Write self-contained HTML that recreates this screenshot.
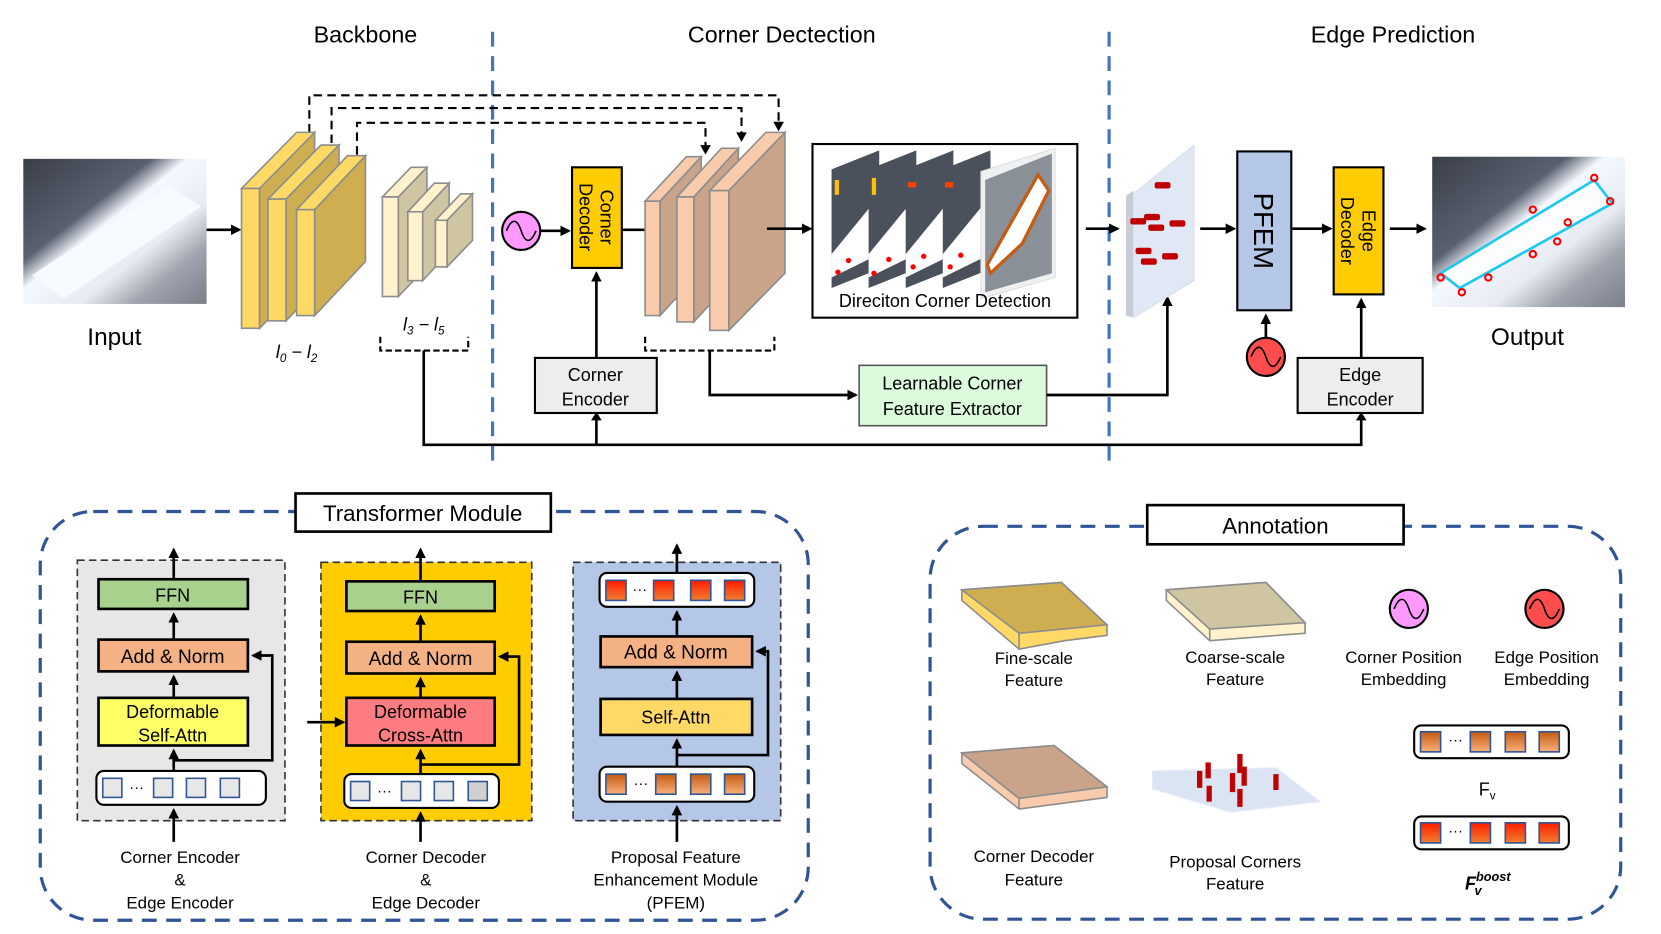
<!DOCTYPE html>
<html><head><meta charset="utf-8"><style>
html,body{margin:0;padding:0;background:#fff;}
svg{display:block;}
text{font-family:"Liberation Sans",sans-serif;fill:#000;}
</style></head><body>
<svg width="1661" height="934" viewBox="0 0 1568 882" preserveAspectRatio="none" xmlns="http://www.w3.org/2000/svg">
<defs>
<marker id="ar" markerWidth="10" markerHeight="10" refX="8" refY="5" orient="auto" markerUnits="userSpaceOnUse"><path d="M0,0 L10,5 L0,10 z" fill="#000"/></marker>
<linearGradient id="tokO" x1="0" y1="0" x2="0" y2="1"><stop offset="0" stop-color="#c55a11"/><stop offset="1" stop-color="#f8b07a"/></linearGradient>
<linearGradient id="tokR" x1="0" y1="0" x2="0" y2="1"><stop offset="0" stop-color="#ff1a00"/><stop offset="1" stop-color="#f08030"/></linearGradient>
<linearGradient id="sat" x1="0" y1="0" x2="1" y2="1"><stop offset="0" stop-color="#3a3e48"/><stop offset="0.35" stop-color="#5a6070"/><stop offset="0.45" stop-color="#f4f8ff"/><stop offset="0.65" stop-color="#e8ecf2"/><stop offset="0.8" stop-color="#a0a4ae"/><stop offset="1" stop-color="#7a7e88"/></linearGradient>
</defs>

<text x="345" y="40" font-size="22" text-anchor="middle">Backbone</text>
<text x="738" y="40" font-size="22" text-anchor="middle">Corner Dectection</text>
<text x="1315" y="40" font-size="22" text-anchor="middle">Edge Prediction</text>

<line x1="465" y1="30" x2="465" y2="435" stroke="#4472c4" stroke-width="3" stroke-dasharray="14,9"/>
<line x1="1047" y1="30" x2="1047" y2="435" stroke="#4472c4" stroke-width="3" stroke-dasharray="14,9"/>

<rect x="22" y="150" width="173" height="137" fill="url(#sat)"/>
<polygon points="30,260 160,175 190,195 60,282" fill="#f7faff"/>
<text x="108" y="326" font-size="23" text-anchor="middle">Input</text>
<line x1="195" y1="217" x2="226" y2="217" stroke="#000" stroke-width="2.5" marker-end="url(#ar)"/>

<g fill="none" stroke="#000" stroke-width="2" stroke-dasharray="8,5">
<polyline points="292,125 292,90 735,90 735,118"/>
<polyline points="313,135 313,102 700,102 700,128"/>
<polyline points="337,146 337,116 666,116 666,140"/>
</g>
<polygon points="730,115 740,115 735,124" fill="#000"/>
<polygon points="695,125 705,125 700,134" fill="#000"/>
<polygon points="661,137 671,137 666,146" fill="#000"/>

<g stroke="#8c8c8c" stroke-width="1.5">
<polygon points="245,178 297,125 297,257 245,310" fill="#cfae52"/>
<polygon points="228,178 280,125 297,125 245,178" fill="#ffd966"/>
<rect x="228" y="178" width="17" height="132" fill="#ffd966"/>
<polygon points="270,188 320,137 320,251 270,303" fill="#cfae52"/>
<polygon points="253,188 303,137 320,137 270,188" fill="#ffd966"/>
<rect x="253" y="188" width="17" height="115" fill="#ffd966"/>
<polygon points="297,198 345,147 345,247 297,298" fill="#cfae52"/>
<polygon points="280,198 328,147 345,147 297,198" fill="#ffd966"/>
<rect x="280" y="198" width="17" height="100" fill="#ffd966"/>
<polygon points="376,186 403,158 403,252 376,280" fill="#d0c5a3"/>
<polygon points="361,186 388,158 403,158 376,186" fill="#fff2cc"/>
<rect x="361" y="186" width="15" height="94" fill="#fff2cc"/>
<polygon points="399,200 424,173 424,238 399,265" fill="#d0c5a3"/>
<polygon points="385,200 410,173 424,173 399,200" fill="#fff2cc"/>
<rect x="385" y="200" width="14" height="65" fill="#fff2cc"/>
<polygon points="422,208 446,183 446,227 422,252" fill="#d0c5a3"/>
<polygon points="411,208 435,183 446,183 422,208" fill="#fff2cc"/>
<rect x="411" y="208" width="11" height="44" fill="#fff2cc"/>
</g>
<text x="280" y="338" font-size="17" font-style="italic" font-family="Liberation Serif" text-anchor="middle">l<tspan font-size="11" dy="4">0</tspan><tspan dy="-4"> − l</tspan><tspan font-size="11" dy="4">2</tspan></text>
<text x="400" y="312" font-size="17" font-style="italic" font-family="Liberation Serif" text-anchor="middle">l<tspan font-size="11" dy="4">3</tspan><tspan dy="-4"> − l</tspan><tspan font-size="11" dy="4">5</tspan></text>
<polyline points="359,318 359,331 442,331 442,318" fill="none" stroke="#000" stroke-width="2" stroke-dasharray="6,3"/>

<polyline points="400,331 400,420 1285,420 1285,395" fill="none" stroke="#000" stroke-width="2.5"/>
<polygon points="1280,397 1290,397 1285,389" fill="#000"/>
<line x1="563" y1="420" x2="563" y2="395" stroke="#000" stroke-width="2.5"/>
<polygon points="558,397 568,397 563,389" fill="#000"/>

<circle cx="492" cy="218" r="18" fill="#ff99ff" stroke="#000" stroke-width="2"/>
<path d="M478,218 C483,206 488,206 492,218 C496,230 501,230 506,218" fill="none" stroke="#000" stroke-width="1.5"/>
<line x1="510" y1="218" x2="537" y2="218" stroke="#000" stroke-width="2.5" marker-end="url(#ar)"/>

<rect x="540" y="158" width="47" height="95" fill="#ffcc00" stroke="#000" stroke-width="2"/>
<text transform="translate(563,205) rotate(90)" font-size="17" text-anchor="middle"><tspan x="0" y="-4">Corner</tspan><tspan x="0" y="16">Decoder</tspan></text>
<line x1="587" y1="217" x2="609" y2="217" stroke="#000" stroke-width="2.5"/>

<g stroke="#8c8c8c" stroke-width="1.5">
<polygon points="623,190 662,148 662,256 623,298" fill="#c9a48b"/>
<polygon points="609,190 648,148 662,148 623,190" fill="#f8cbad"/>
<rect x="609" y="190" width="14" height="108" fill="#f8cbad"/>
<polygon points="655,186 697,140 697,258 655,304" fill="#c9a48b"/>
<polygon points="639,186 681,140 697,140 655,186" fill="#f8cbad"/>
<rect x="639" y="186" width="16" height="118" fill="#f8cbad"/>
<polygon points="688,180 741,125 741,258 688,312" fill="#c9a48b"/>
<polygon points="670,180 723,125 741,125 688,180" fill="#f8cbad"/>
<rect x="670" y="180" width="18" height="132" fill="#f8cbad"/>
</g>
<polyline points="609,318 609,331 731,331 731,318" fill="none" stroke="#000" stroke-width="2" stroke-dasharray="6,3"/>
<polyline points="670,331 670,373 808,373" fill="none" stroke="#000" stroke-width="2.5" marker-end="url(#ar)"/>
<line x1="724" y1="216" x2="765" y2="216" stroke="#000" stroke-width="2.5" marker-end="url(#ar)"/>

<rect x="767" y="136" width="250" height="164" fill="#fff" stroke="#000" stroke-width="2"/>
<g>
<polygon points="785,160 830,142 830,254 785,272" fill="#4a505c"/>
<polygon points="785,240 830,185 830,240 785,262" fill="#fff"/>
<polygon points="820,160 865,142 865,254 820,272" fill="#4a505c"/>
<polygon points="820,240 865,185 865,240 820,262" fill="#fff"/>
<polygon points="855,160 900,142 900,254 855,272" fill="#4a505c"/>
<polygon points="855,240 900,185 900,240 855,262" fill="#fff"/>
<polygon points="890,160 935,142 935,254 890,272" fill="#4a505c"/>
<polygon points="890,240 935,185 935,240 890,262" fill="#fff"/>
<polygon points="926,162 996,140 996,262 926,282" fill="#eef0f2" stroke="#ddd"/>
<polygon points="930,170 993,145 993,258 930,276" fill="#8a9098"/>
<polygon points="932,250 980,165 990,180 965,230 935,258" fill="#fff" stroke="#c55a11" stroke-width="3"/>
<rect x="788" y="170" width="4" height="14" fill="#ffc000"/><rect x="823" y="168" width="4" height="16" fill="#ffc000"/>
<rect x="857" y="172" width="8" height="5" fill="#ff4000"/><rect x="892" y="172" width="8" height="5" fill="#ff4000"/>
<g fill="#ff0000"><circle cx="791" cy="257" r="2.5"/><circle cx="801" cy="246" r="2.5"/><circle cx="825" cy="258" r="2.5"/><circle cx="839" cy="245" r="2.5"/><circle cx="862" cy="252" r="2.5"/><circle cx="872" cy="242" r="2.5"/><circle cx="897" cy="252" r="2.5"/><circle cx="907" cy="241" r="2.5"/></g>
</g>
<text x="892" y="290" font-size="17" text-anchor="middle">Direciton Corner Detection</text>

<rect x="505" y="338" width="115" height="52" fill="#ededed" stroke="#000" stroke-width="2"/>
<text x="562" y="360" font-size="17" text-anchor="middle">Corner</text>
<text x="562" y="383" font-size="17" text-anchor="middle">Encoder</text>
<line x1="563" y1="338" x2="563" y2="258" stroke="#000" stroke-width="2.5" marker-end="url(#ar)"/>

<rect x="811" y="345" width="177" height="57" fill="#dcfadc" stroke="#555" stroke-width="1.5"/>
<text x="899" y="368" font-size="17" text-anchor="middle">Learnable Corner</text>
<text x="899" y="392" font-size="17" text-anchor="middle">Feature Extractor</text>
<polyline points="988,373 1102,373 1102,281" fill="none" stroke="#000" stroke-width="2.5" marker-end="url(#ar)"/>

<polygon points="1063,185 1070,180 1070,300 1063,298" fill="#c8ccd6"/>
<polygon points="1070,183 1127,137 1127,265 1070,300" fill="#e0e8f6" stroke="#d8deea"/>
<g fill="#c00000">
<rect x="1090" y="172" width="15" height="6" rx="2"/>
<rect x="1067" y="206" width="15" height="6" rx="2"/><rect x="1080" y="202" width="15" height="6" rx="2"/><rect x="1104" y="208" width="15" height="6" rx="2"/><rect x="1084" y="212" width="15" height="6" rx="2"/>
<rect x="1072" y="234" width="15" height="6" rx="2"/><rect x="1097" y="239" width="15" height="6" rx="2"/><rect x="1077" y="244" width="15" height="6" rx="2"/>
</g>
<line x1="1025" y1="216" x2="1055" y2="216" stroke="#000" stroke-width="2.5" marker-end="url(#ar)"/>
<line x1="1133" y1="216" x2="1165" y2="216" stroke="#000" stroke-width="2.5" marker-end="url(#ar)"/>

<rect x="1168" y="143" width="51" height="150" fill="#b4c7e7" stroke="#000" stroke-width="2"/>
<text transform="translate(1193,218) rotate(90)" font-size="26" text-anchor="middle" y="9">PFEM</text>
<circle cx="1195" cy="337" r="18" fill="#ff4d4d" stroke="#000" stroke-width="2"/>
<path d="M1181,337 C1186,325 1191,325 1195,337 C1199,349 1204,349 1209,337" fill="none" stroke="#000" stroke-width="1.5"/>
<line x1="1195" y1="319" x2="1195" y2="298" stroke="#000" stroke-width="2.5" marker-end="url(#ar)"/>
<line x1="1220" y1="216" x2="1256" y2="216" stroke="#000" stroke-width="2.5" marker-end="url(#ar)"/>

<rect x="1259" y="158" width="47" height="120" fill="#ffcc00" stroke="#000" stroke-width="2"/>
<text transform="translate(1282,218) rotate(90)" font-size="17" text-anchor="middle"><tspan x="0" y="-4">Edge</tspan><tspan x="0" y="16">Decoder</tspan></text>
<line x1="1312" y1="216" x2="1345" y2="216" stroke="#000" stroke-width="2.5" marker-end="url(#ar)"/>
<rect x="1225" y="338" width="118" height="52" fill="#ededed" stroke="#000" stroke-width="2"/>
<text x="1284" y="360" font-size="17" text-anchor="middle">Edge</text>
<text x="1284" y="383" font-size="17" text-anchor="middle">Encoder</text>
<line x1="1285" y1="338" x2="1285" y2="283" stroke="#000" stroke-width="2.5" marker-end="url(#ar)"/>

<rect x="1352" y="148" width="182" height="142" fill="url(#sat)"/>
<polygon points="1360,258 1505,170 1522,192 1378,272" fill="#fbfdff" stroke="#1ec8ee" stroke-width="2.5"/>
<g fill="none" stroke="#ff0000" stroke-width="2"><circle cx="1505" cy="168" r="3"/><circle cx="1520" cy="190" r="3"/><circle cx="1447" cy="198" r="3"/><circle cx="1480" cy="210" r="3"/><circle cx="1470" cy="228" r="3"/><circle cx="1447" cy="240" r="3"/><circle cx="1360" cy="262" r="3"/><circle cx="1405" cy="262" r="3"/><circle cx="1380" cy="276" r="3"/></g>
<text x="1442" y="326" font-size="23" text-anchor="middle">Output</text>

<rect x="38" y="483" width="725" height="386" rx="50" fill="none" stroke="#2f5597" stroke-width="3" stroke-dasharray="14,9"/>
<rect x="279" y="466" width="241" height="36" fill="#fff" stroke="#000" stroke-width="2.5"/>
<text x="399" y="492" font-size="21" text-anchor="middle">Transformer Module</text>

<rect x="73" y="529" width="196" height="246" fill="#e7e7e7" stroke="#333" stroke-width="1.5" stroke-dasharray="7,4"/>
<rect x="93" y="547" width="141" height="28" fill="#a9d18e" stroke="#000" stroke-width="2.5"/>
<text x="163" y="568" font-size="17" text-anchor="middle">FFN</text>
<rect x="93" y="604" width="141" height="30" fill="#f4b183" stroke="#000" stroke-width="2.5"/>
<text x="163" y="626" font-size="18" text-anchor="middle">Add &amp; Norm</text>
<rect x="93" y="659" width="141" height="45" fill="#ffff66" stroke="#000" stroke-width="2.5"/>
<text x="163" y="678" font-size="17" text-anchor="middle">Deformable</text>
<text x="163" y="700" font-size="17" text-anchor="middle">Self-Attn</text>
<rect x="91" y="728" width="160" height="32" rx="7" fill="#fff" stroke="#000" stroke-width="2"/>
<g fill="#e7e7e7" stroke="#2f5597" stroke-width="1.5"><rect x="97" y="735" width="18" height="18"/><rect x="145" y="735" width="18" height="18"/><rect x="176" y="735" width="18" height="18"/><rect x="208" y="735" width="18" height="18"/></g>
<text x="129" y="748" font-size="14" text-anchor="middle">···</text>
<g stroke="#000" stroke-width="2.5" fill="none">
<line x1="164" y1="795" x2="164" y2="765" marker-end="url(#ar)"/>
<line x1="164" y1="728" x2="164" y2="709" marker-end="url(#ar)"/>
<line x1="164" y1="659" x2="164" y2="639" marker-end="url(#ar)"/>
<line x1="164" y1="604" x2="164" y2="580" marker-end="url(#ar)"/>
<line x1="164" y1="547" x2="164" y2="519" marker-end="url(#ar)"/>
<polyline points="164,718 257,718 257,619 239,619" marker-end="url(#ar)"/>
</g>
<text x="170" y="815" font-size="16" text-anchor="middle">Corner Encoder</text>
<text x="170" y="836" font-size="16" text-anchor="middle">&amp;</text>
<text x="170" y="858" font-size="16" text-anchor="middle">Edge Encoder</text>

<rect x="303" y="531" width="199" height="244" fill="#ffcc00" stroke="#333" stroke-width="1.5" stroke-dasharray="7,4"/>
<rect x="327" y="549" width="140" height="28" fill="#a9d18e" stroke="#000" stroke-width="2.5"/>
<text x="397" y="570" font-size="17" text-anchor="middle">FFN</text>
<rect x="327" y="606" width="140" height="30" fill="#f4b183" stroke="#000" stroke-width="2.5"/>
<text x="397" y="628" font-size="18" text-anchor="middle">Add &amp; Norm</text>
<rect x="327" y="659" width="140" height="45" fill="#ff7c80" stroke="#000" stroke-width="2.5"/>
<text x="397" y="678" font-size="17" text-anchor="middle">Deformable</text>
<text x="397" y="700" font-size="17" text-anchor="middle">Cross-Attn</text>
<rect x="325" y="731" width="146" height="32" rx="7" fill="#fff" stroke="#000" stroke-width="2"/>
<g fill="#e7e7e7" stroke="#2f5597" stroke-width="1.5"><rect x="331" y="738" width="18" height="18"/><rect x="379" y="738" width="18" height="18"/><rect x="410" y="738" width="18" height="18"/><rect x="442" y="738" width="18" height="18" fill="#d0d0d0"/></g>
<text x="363" y="751" font-size="14" text-anchor="middle">···</text>
<g stroke="#000" stroke-width="2.5" fill="none">
<line x1="397" y1="795" x2="397" y2="768" marker-end="url(#ar)"/>
<line x1="397" y1="731" x2="397" y2="709" marker-end="url(#ar)"/>
<line x1="397" y1="659" x2="397" y2="641" marker-end="url(#ar)"/>
<line x1="397" y1="606" x2="397" y2="582" marker-end="url(#ar)"/>
<line x1="397" y1="549" x2="397" y2="519" marker-end="url(#ar)"/>
<polyline points="397,722 490,722 490,620 472,620" marker-end="url(#ar)"/>
<line x1="290" y1="682" x2="324" y2="682" marker-end="url(#ar)"/>
</g>
<text x="402" y="815" font-size="16" text-anchor="middle">Corner Decoder</text>
<text x="402" y="836" font-size="16" text-anchor="middle">&amp;</text>
<text x="402" y="858" font-size="16" text-anchor="middle">Edge Decoder</text>

<rect x="541" y="531" width="196" height="244" fill="#b4c7e7" stroke="#333" stroke-width="1.5" stroke-dasharray="7,4"/>
<rect x="566" y="541" width="146" height="32" rx="7" fill="#fff" stroke="#000" stroke-width="2"/>
<g fill="url(#tokR)" stroke="#2f5597" stroke-width="1.5"><rect x="572" y="548" width="19" height="19"/><rect x="617" y="548" width="19" height="19"/><rect x="652" y="548" width="19" height="19"/><rect x="684" y="548" width="19" height="19"/></g>
<text x="604" y="561" font-size="14" text-anchor="middle">···</text>
<rect x="567" y="601" width="143" height="29" fill="#f4b183" stroke="#000" stroke-width="2.5"/>
<text x="638" y="622" font-size="18" text-anchor="middle">Add &amp; Norm</text>
<rect x="567" y="660" width="143" height="34" fill="#ffd966" stroke="#000" stroke-width="2.5"/>
<text x="638" y="683" font-size="17" text-anchor="middle">Self-Attn</text>
<rect x="566" y="724" width="146" height="33" rx="7" fill="#fff" stroke="#000" stroke-width="2"/>
<g fill="url(#tokO)" stroke="#2f5597" stroke-width="1.5"><rect x="572" y="731" width="19" height="19"/><rect x="619" y="731" width="19" height="19"/><rect x="652" y="731" width="19" height="19"/><rect x="684" y="731" width="19" height="19"/></g>
<text x="605" y="744" font-size="14" text-anchor="middle">···</text>
<g stroke="#000" stroke-width="2.5" fill="none">
<line x1="639" y1="795" x2="639" y2="762" marker-end="url(#ar)"/>
<line x1="639" y1="724" x2="639" y2="699" marker-end="url(#ar)"/>
<line x1="639" y1="660" x2="639" y2="635" marker-end="url(#ar)"/>
<line x1="639" y1="601" x2="639" y2="578" marker-end="url(#ar)"/>
<line x1="639" y1="541" x2="639" y2="515" marker-end="url(#ar)"/>
<polyline points="639,713 725,713 725,615 715,615" marker-end="url(#ar)"/>
</g>
<text x="638" y="815" font-size="16" text-anchor="middle">Proposal Feature</text>
<text x="638" y="836" font-size="16" text-anchor="middle">Enhancement Module</text>
<text x="638" y="858" font-size="16" text-anchor="middle">(PFEM)</text>

<rect x="878" y="497" width="652" height="371" rx="50" fill="none" stroke="#2f5597" stroke-width="3" stroke-dasharray="14,9"/>
<rect x="1083" y="477" width="242" height="37" fill="#fff" stroke="#000" stroke-width="2.5"/>
<text x="1204" y="504" font-size="21" text-anchor="middle">Annotation</text>

<g stroke="#8c8c8c" stroke-width="1.5">
<polygon points="908,557 1002,550 1045,590 1045,600 1005,605 962,613 908,567" fill="#ffd966"/>
<polygon points="908,557 1002,550 1045,590 962,598" fill="#cfae52"/>
<line x1="962" y1="598" x2="962" y2="613"/>
<polygon points="1101,557 1195,550 1232,588 1232,598 1142,605 1101,567" fill="#fff2cc"/>
<polygon points="1101,557 1195,550 1232,588 1142,594" fill="#d0c5a3"/>
<line x1="1142" y1="594" x2="1142" y2="605"/>
<polygon points="908,711 995,704 1045,743 1045,753 962,764 908,721" fill="#f8cbad"/>
<polygon points="908,711 995,704 1045,743 962,754" fill="#c9a48b"/>
<line x1="962" y1="754" x2="962" y2="764"/>
</g>
<polygon points="1088,728 1205,725 1246,757 1162,767 1088,745" fill="#dbe4f3" stroke="#e6ecf7"/>
<g fill="#c00000"><rect x="1168" y="712" width="5" height="18"/><rect x="1138" y="720" width="5" height="15"/><rect x="1130" y="728" width="5" height="16"/><rect x="1161" y="730" width="5" height="18"/><rect x="1172" y="724" width="5" height="18"/><rect x="1202" y="731" width="5" height="15"/><rect x="1139" y="742" width="5" height="15"/><rect x="1168" y="745" width="5" height="17"/></g>

<circle cx="1330" cy="575" r="18" fill="#ff99ff" stroke="#000" stroke-width="2"/>
<path d="M1316,575 C1321,563 1326,563 1330,575 C1334,587 1339,587 1344,575" fill="none" stroke="#000" stroke-width="1.5"/>
<circle cx="1458" cy="575" r="18" fill="#ff4d4d" stroke="#000" stroke-width="2"/>
<path d="M1444,575 C1449,563 1454,563 1458,575 C1462,587 1467,587 1472,575" fill="none" stroke="#000" stroke-width="1.5"/>

<text x="976" y="627" font-size="16" text-anchor="middle">Fine-scale</text>
<text x="976" y="648" font-size="16" text-anchor="middle">Feature</text>
<text x="1166" y="626" font-size="16" text-anchor="middle">Coarse-scale</text>
<text x="1166" y="647" font-size="16" text-anchor="middle">Feature</text>
<text x="1325" y="626" font-size="16" text-anchor="middle">Corner Position</text>
<text x="1325" y="647" font-size="16" text-anchor="middle">Embedding</text>
<text x="1460" y="626" font-size="16" text-anchor="middle">Edge Position</text>
<text x="1460" y="647" font-size="16" text-anchor="middle">Embedding</text>
<text x="976" y="814" font-size="16" text-anchor="middle">Corner Decoder</text>
<text x="976" y="836" font-size="16" text-anchor="middle">Feature</text>
<text x="1166" y="819" font-size="16" text-anchor="middle">Proposal Corners</text>
<text x="1166" y="840" font-size="16" text-anchor="middle">Feature</text>

<rect x="1335" y="685" width="146" height="31" rx="7" fill="#fff" stroke="#000" stroke-width="2"/>
<g fill="url(#tokO)" stroke="#2f5597" stroke-width="1.5"><rect x="1341" y="691" width="19" height="19"/><rect x="1388" y="691" width="19" height="19"/><rect x="1421" y="691" width="19" height="19"/><rect x="1453" y="691" width="19" height="19"/></g>
<text x="1374" y="703" font-size="14" text-anchor="middle">···</text>
<text x="1396" y="751" font-size="17">F<tspan font-size="11" dy="4">v</tspan></text>
<rect x="1335" y="771" width="146" height="31" rx="7" fill="#fff" stroke="#000" stroke-width="2"/>
<g fill="url(#tokR)" stroke="#2f5597" stroke-width="1.5"><rect x="1341" y="777" width="19" height="19"/><rect x="1388" y="777" width="19" height="19"/><rect x="1421" y="777" width="19" height="19"/><rect x="1453" y="777" width="19" height="19"/></g>
<text x="1374" y="789" font-size="14" text-anchor="middle">···</text>
<text x="1383" y="840" font-size="17" font-style="italic" font-weight="bold" font-family="Liberation Serif">F<tspan font-size="12" dy="-8">boost</tspan><tspan font-size="12" dx="-34" dy="13">v</tspan></text>
</svg>
</body></html>
